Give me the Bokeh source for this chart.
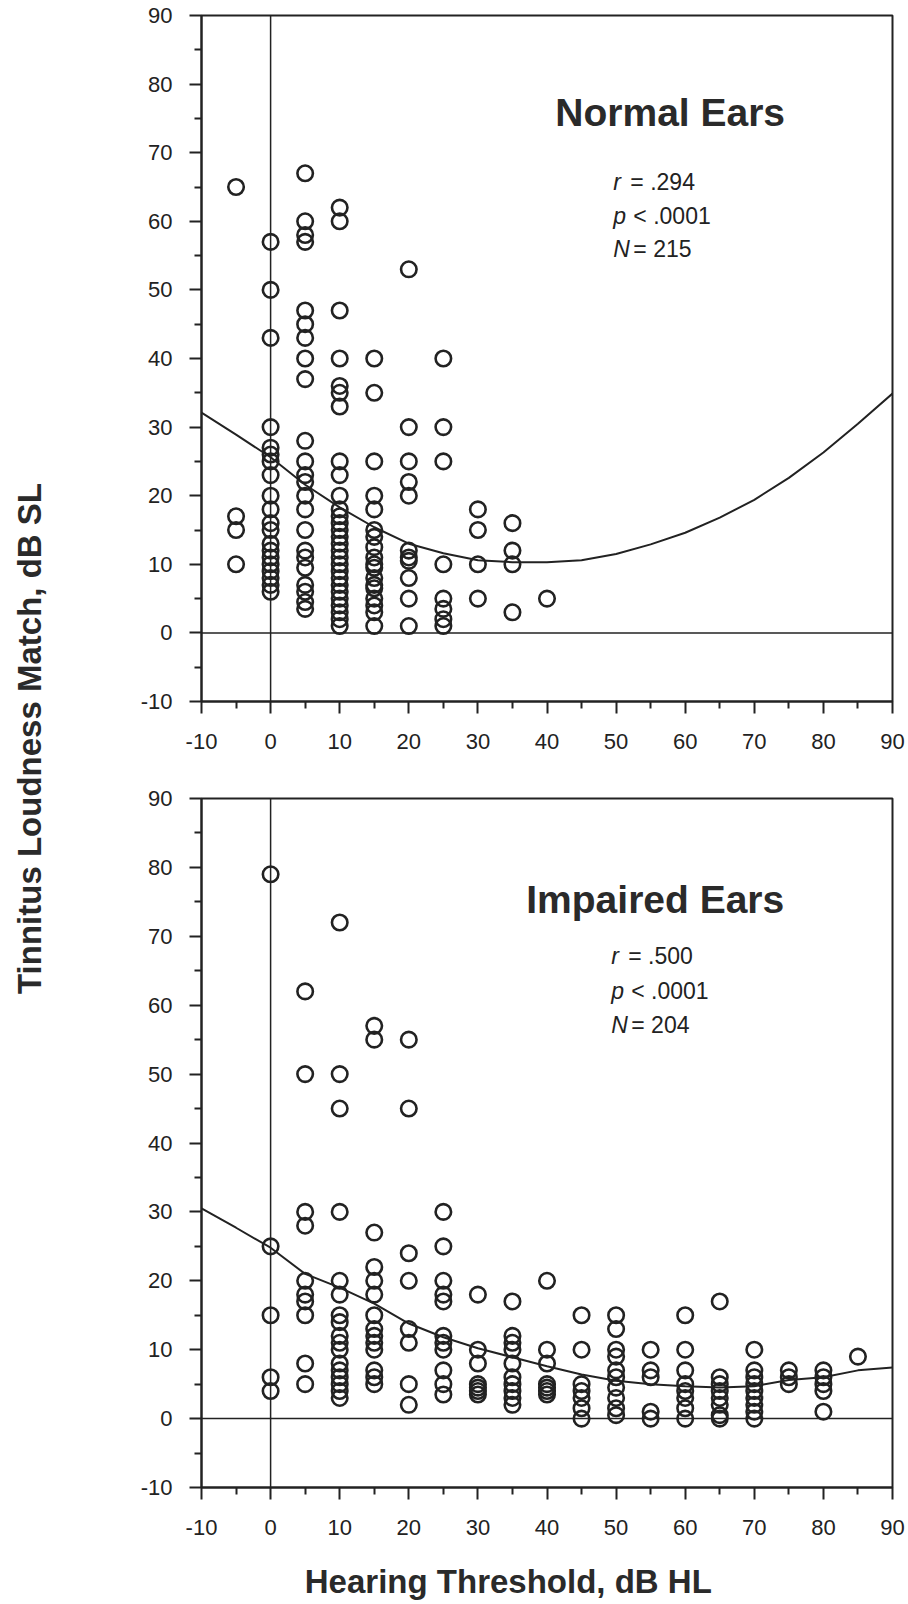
import math
from bokeh.plotting import figure
from bokeh.models import FixedTicker, Span, Label, Range1d
from bokeh.layouts import row, column
from bokeh.embed import file_html
from bokeh.resources import INLINE

# ---------------- data ----------------
major_ticks = [-10, 0, 10, 20, 30, 40, 50, 60, 70, 80, 90]
minor_ticks = [-5, 5, 15, 25, 35, 45, 55, 65, 75, 85]
tick_text = {-10: "-10"}
y_label = "Tinnitus Loudness Match, dB SL"
x_label = "Hearing Threshold, dB HL"

# Normal ears: hearing threshold columns and loudness matches in each column
normal_levels = [-5, 0, 5, 10, 15, 20, 25, 30, 35, 40]
normal_values = [
    [65, 17, 15, 10],
    [57, 50, 43, 30, 27, 26, 25, 23, 20, 18, 16, 15, 13, 12, 11, 10, 9, 8, 7, 6],
    [67, 60, 58, 57, 47, 45, 43, 40, 37, 28, 25, 23, 22, 20, 18, 15, 12, 11, 9.5, 7, 6, 4.5, 3.5],
    [62, 60, 47, 40, 36, 35, 33, 25, 23, 20, 18, 17, 16, 15, 14, 13, 12, 11, 10, 9, 8, 7, 6, 5, 4, 3, 2, 1],
    [40, 35, 25, 20, 18, 15, 14, 12.5, 11, 10, 9.5, 8, 7, 6.5, 5, 4, 3, 1],
    [53, 30, 25, 22, 20, 12, 11, 10.5, 8, 5, 1],
    [40, 30, 25, 10, 5, 3.5, 2, 1],
    [18, 15, 10, 5],
    [16, 12, 10, 3],
    [5],
]
normal_fit_x = [-10, -5, 0, 5, 10, 15, 20, 25, 30, 35, 40, 45, 50, 55, 60, 65, 70, 75, 80, 85, 90]
normal_fit_y = [32.1, 28.9, 25.6, 21.6, 18.3, 15.4, 13.0, 11.6, 10.6, 10.3, 10.3, 10.6, 11.5,
                12.9, 14.6, 16.8, 19.4, 22.6, 26.3, 30.5, 34.9]
normal_stats = ["r", "= .294", "p", "< .0001", "N", "= 215"]

# Impaired ears
impaired_levels = [0, 5, 10, 15, 20, 25, 30, 35, 40, 45, 50, 55, 60, 65, 70, 75, 80, 85]
impaired_values = [
    [79, 25, 15, 6, 4],
    [62, 50, 30, 28, 20, 18, 17, 15, 8, 5],
    [72, 50, 45, 30, 20, 18, 15, 14, 12, 11, 10, 8, 7, 6, 5, 4, 3],
    [57, 55, 27, 22, 20, 18, 15, 13, 12, 11, 10, 7, 6, 5],
    [55, 45, 24, 20, 13, 11, 5, 2],
    [30, 25, 20, 18, 17, 12, 11, 10, 7, 5, 3.5],
    [18, 10, 8, 5, 4.5, 4, 3.5],
    [17, 12, 11, 10, 8, 6, 5, 4, 3, 2],
    [20, 10, 8, 5, 4.5, 4, 3.5],
    [15, 10, 5, 4, 3, 1.5, 0],
    [15, 13, 10, 9, 7, 6, 4.5, 3, 1.5, 0.5],
    [10, 7, 6, 1, 0],
    [15, 10, 7, 5, 4, 3, 1.5, 0],
    [17, 6, 5, 4, 3, 2, 0.5, 0],
    [10, 7, 6, 5, 4, 3, 2, 1, 0],
    [7, 6, 5],
    [7, 6, 5, 4, 1],
    [9],
]
impaired_fit_x = [-10, -5, 0, 5, 10, 15, 20, 25, 30, 35, 40, 45, 50, 55, 60, 65, 70, 75, 80, 85, 90]
impaired_fit_y = [30.5, 27.7, 24.8, 21.0, 19.0, 16.7, 13.8, 11.8, 10.2, 8.9, 7.6, 6.4, 5.5,
                  5.0, 4.7, 4.5, 4.7, 5.6, 6.0, 7.0, 7.4]
impaired_stats = ["r", "= .500", "p", "< .0001", "N", "= 204"]

INK = "#222222"
FONT = "Liberation Sans"


def flatten(levels, values):
    xs, ys = [], []
    for lv, col in zip(levels, values):
        for v in col:
            xs.append(lv)
            ys.append(v)
    return xs, ys


def panel(height, top, bottom, levels, values, fx, fy, title, title_xy, stats, stats_xy):
    p = figure(width=848, height=height, output_backend="svg", toolbar_location=None,
               x_range=Range1d(-10, 90), y_range=Range1d(-10, 90),
               min_border_left=141, min_border_right=16,
               min_border_top=top, min_border_bottom=bottom)
    p.grid.visible = False
    p.outline_line_color = INK
    p.outline_line_width = 2
    p.background_fill_color = "white"
    p.border_fill_color = "white"
    for ax in (p.xaxis[0], p.yaxis[0]):
        ax.ticker = FixedTicker(ticks=major_ticks, minor_ticks=minor_ticks)
        ax.major_label_overrides = tick_text
        ax.axis_line_color = INK
        ax.axis_line_width = 2
        ax.major_tick_line_color = INK
        ax.minor_tick_line_color = INK
        ax.major_tick_line_width = 2
        ax.minor_tick_line_width = 2
        ax.major_tick_in = 0
        ax.minor_tick_in = 0
        ax.major_tick_out = 12
        ax.minor_tick_out = 7
        ax.major_label_text_font = FONT
        ax.major_label_text_font_size = "22px"
        ax.major_label_text_color = INK
    p.xaxis[0].major_label_standoff = 20
    p.yaxis[0].major_label_standoff = 17

    p.add_layout(Span(location=0, dimension="height", line_color=INK, line_width=1.5))
    p.add_layout(Span(location=0, dimension="width", line_color=INK, line_width=1.5))

    xs, ys = flatten(levels, values)
    p.scatter(xs, ys, marker="circle", size=15.5, fill_alpha=0,
              line_color=INK, line_width=2.6)
    p.line(fx, fy, line_color=INK, line_width=2)

    p.add_layout(Label(x=title_xy[0], y=title_xy[1], text=title, text_font=FONT,
                       text_font_size="39px", text_font_style="bold",
                       text_color="#2a2a2a", text_baseline="alphabetic"))
    offsets = [17, 20, 20]
    for i in range(3):
        letter, rest = stats[2 * i], stats[2 * i + 1]
        yy = stats_xy[1][i]
        p.add_layout(Label(x=stats_xy[0], y=yy, text=letter, text_font=FONT,
                           text_font_size="23px", text_font_style="italic",
                           text_color=INK, text_baseline="alphabetic"))
        p.add_layout(Label(x=stats_xy[0], y=yy, x_offset=offsets[i], text=rest,
                           text_font=FONT, text_font_size="23px",
                           text_color=INK, text_baseline="alphabetic"))
    return p


p1 = panel(761, 15, 60, normal_levels, normal_values, normal_fit_x, normal_fit_y,
           "Normal Ears", (41.2, 75.9), normal_stats, (49.6, [65.7, 60.7, 55.9]))
p2 = panel(783, 37, 57, impaired_levels, impaired_values, impaired_fit_x, impaired_fit_y,
           "Impaired Ears", (37.0, 75.3), impaired_stats, (49.3, [67.2, 62.1, 57.1]))


def text_strip(width, height, x_start, x_end):
    f = figure(width=width, height=height, output_backend="svg", toolbar_location=None,
               x_range=Range1d(x_start, x_end), y_range=Range1d(height, 0),
               x_axis_location=None, y_axis_location=None,
               min_border=0, min_border_left=0, min_border_right=0,
               min_border_top=0, min_border_bottom=0)
    f.grid.visible = False
    f.outline_line_color = None
    f.background_fill_color = "white"
    f.border_fill_color = "white"
    return f


# strip below the lower panel holding the x-axis title (its frame aligns with the panels)
pb = text_strip(848, 60, -10, 90)
pb.add_layout(Label(x=34.4, y=37, text=x_label, text_font=FONT, text_font_size="33px",
                    text_font_style="bold", text_color="#2a2a2a", text_align="center",
                    text_baseline="alphabetic"))

# narrow strip holding the shared y-axis title
pl = text_strip(60, 1604, 0, 60)
pl.add_layout(Label(x=29, y=738, text=y_label, angle=math.pi / 2, text_font=FONT,
                    text_font_size="33px", text_font_style="bold", text_color="#2a2a2a",
                    text_align="center", text_baseline="middle"))

layout = row(pl, column(p1, p2, pb))
open("out.html", "w").write(file_html(layout, INLINE))
